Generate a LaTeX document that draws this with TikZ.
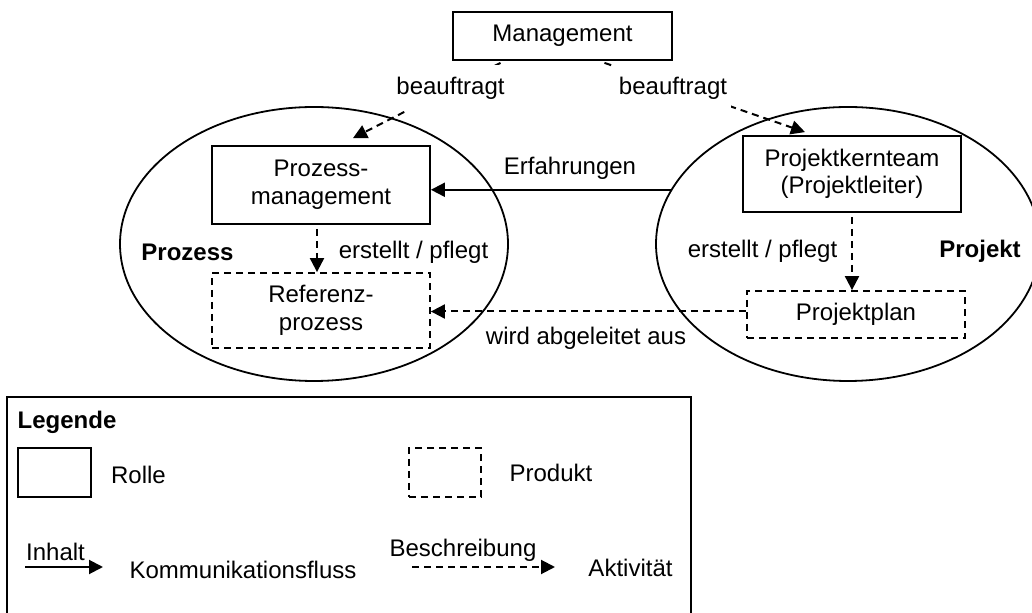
\documentclass[tikz,border=0pt]{standalone}
\usepackage{fontspec}
\setmainfont{Liberation Sans}
\usetikzlibrary{positioning, shapes.geometric, arrows.meta}

\begin{document}
\begin{tikzpicture}[
	    x=0.5pt, y=-0.5pt,
	    >={Triangle[length=7pt, width=7pt]},
	    every node/.style={font=\fontsize{12}{13.8}\selectfont, inner sep=0pt},
	    rolle/.style={draw, line width=0.9pt, minimum width=109pt, align=center},
	    produkt/.style={rolle, dash pattern=on 3.5pt off 2.5pt},
	    bereich/.style={ellipse, draw, line width=0.9pt, minimum width=194pt, minimum height=137pt},
	    komm/.style={->, line width=1pt},
	    akt/.style={->, line width=1pt, dash pattern=on 3.5pt off 2.5pt},
	    deckel/.style={fill=white, inner xsep=2pt, inner ysep=6pt}
	]
		\useasboundingbox (0,0) rectangle (1032,613);

		% Bereiche
		\node[bereich] (prozess) at (314,244) {};
		\node[bereich, minimum width=192pt] (projekt) at (848,244) {};

		% Rollen und Produkte
		\node[rolle, minimum width=109.5pt, minimum height=24pt] (mgmt) at (562.5,36) {Management};
		\node[rolle, minimum height=39pt] (pm) at (321,185) {Prozess-\\management};
		\node[produkt, minimum height=37.5pt] (ref) at (321,310.5) {Referenz-\\prozess};
		\node[rolle, minimum height=38pt] (pkt) at (852,174) {Projektkernteam\\(Projektleiter)};
		\node[produkt, minimum height=23.5pt] (plan) at (856,314.5) {Projektplan};

		\draw[akt] ([xshift=-31pt, yshift=-1pt]mgmt.south) -- ([xshift=16pt, yshift=3.5pt]pm.north);
		\draw[akt] ([xshift=21pt, yshift=-1pt]mgmt.south) -- ([xshift=-23.5pt, yshift=1.5pt]pkt.north);
		\draw[akt] ([xshift=-2pt, yshift=-2pt]pm.south) -- ([xshift=-2pt]ref.north);
		\draw[akt] ([yshift=-2pt]pkt.south) -- (pkt.south |- plan.north);
		\draw[komm] (projekt.163) -- (projekt.163 -| pm.east);
		\draw[akt] ([yshift=1.5pt]plan.west) -- ([yshift=1.5pt]plan.west -| ref.east);

		\node[deckel] (bL) at (450.5,88) {beauftragt};
		\node[deckel] (bR) at (673,88) {beauftragt};
		\node (erf) at (570,168) {Erfahrungen};
		\node (abg) at (586,338) {wird abgeleitet aus};
		\node (epL) at (413.5,252) {erstellt / pflegt};
		\node (epR) at (762.5,251) {erstellt / pflegt};
		\node (tProz) at (187.5,252) {\textbf{Prozess}};
		\node (tProj) at (980,251) {\textbf{Projekt}};

		% Legende
		\draw[line width=0.9pt] (7,397) rectangle (691,617);
		\node (leg) at (67,422) {\textbf{Legende}};
		\node[rolle, minimum width=36.5pt, minimum height=24.5pt] (lrolle) at (54.5,472.5) {};
		\node (trolle) at (138.5,475) {Rolle};
		\node[produkt, minimum width=36pt, minimum height=24.5pt] (lprod) at (445,472.5) {};
		\node (tprod) at (551,473) {Produkt};

		\coordinate (k1) at (25,567);
		\coordinate (k2) at (103,567);
		\draw[komm] (k1) -- (k2);
		\node (inh) at (55.5,552) {Inhalt};
		\node (tkomm) at (243,570) {Kommunikationsfluss};

		\coordinate (a1) at (412,567);
		\coordinate (a2) at (555,567);
		\draw[akt] (a1) -- (a2);
		\node (besch) at (463,550) {Beschreibung};
		\node (takt) at (630.5,568) {Aktivität};
	\end{tikzpicture}
\end{document}
